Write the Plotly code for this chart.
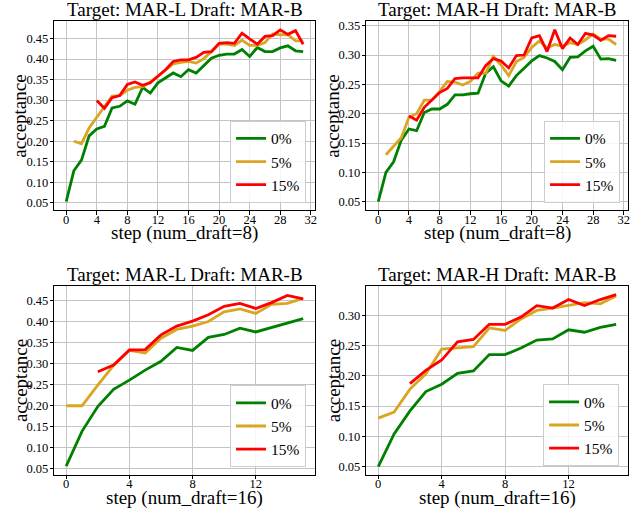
import plotly.graph_objects as go

series_names = ["0%", "5%", "15%"]
series_colors = ["#008000", "#DAA520", "#FF0000"]

titles = ["Target: MAR-L Draft: MAR-B", "Target: MAR-H Draft: MAR-B",
          "Target: MAR-L Draft: MAR-B", "Target: MAR-H Draft: MAR-B"]
xlabels = ["step (num_draft=8)", "step (num_draft=8)",
           "step (num_draft=16)", "step (num_draft=16)"]
ylabel = "acceptance"

# ---- panel 1: MAR-L, num_draft=8 (steps 0..31)
p1_steps0 = list(range(0, 32))
p1_g = [0.053, 0.128, 0.154, 0.213, 0.230, 0.236, 0.281, 0.285, 0.298, 0.290,
        0.331, 0.317, 0.342, 0.354, 0.366, 0.357, 0.374, 0.366, 0.385, 0.402,
        0.409, 0.412, 0.412, 0.423, 0.406, 0.428, 0.418, 0.418, 0.427, 0.432,
        0.420, 0.418]
p1_steps5 = list(range(1, 32))
p1_o = [0.200, 0.194, 0.232, 0.259, 0.283, 0.310, 0.311, 0.324, 0.331, 0.333,
        0.344, 0.358, 0.372, 0.388, 0.392, 0.394, 0.390, 0.401, 0.418, 0.436,
        0.436, 0.433, 0.446, 0.433, 0.433, 0.440, 0.461, 0.459, 0.459, 0.444,
        0.444]
p1_steps15 = list(range(4, 32))
p1_r = [0.299, 0.280, 0.306, 0.311, 0.338, 0.344, 0.336, 0.342, 0.358, 0.374,
        0.394, 0.398, 0.398, 0.404, 0.416, 0.418, 0.438, 0.440, 0.438, 0.463,
        0.449, 0.436, 0.455, 0.457, 0.471, 0.460, 0.469, 0.436]

# ---- panel 2: MAR-H, num_draft=8
p2_steps0 = list(range(0, 32))
p2_g = [0.050, 0.100, 0.118, 0.155, 0.174, 0.171, 0.202, 0.208, 0.208, 0.216,
        0.232, 0.232, 0.234, 0.235, 0.269, 0.280, 0.256, 0.247, 0.265, 0.278,
        0.290, 0.299, 0.295, 0.289, 0.275, 0.296, 0.297, 0.307, 0.315, 0.293,
        0.294, 0.291]
p2_steps5 = list(range(1, 32))
p2_o = [0.130, 0.144, 0.159, 0.194, 0.200, 0.223, 0.223, 0.238, 0.255, 0.254,
        0.249, 0.255, 0.269, 0.269, 0.298, 0.283, 0.265, 0.289, 0.296, 0.313,
        0.324, 0.312, 0.318, 0.315, 0.321, 0.318, 0.326, 0.336, 0.327, 0.327,
        0.318]
p2_steps15 = list(range(4, 32))
p2_r = [0.196, 0.189, 0.211, 0.223, 0.236, 0.243, 0.260, 0.261, 0.261, 0.261,
        0.282, 0.294, 0.290, 0.278, 0.299, 0.300, 0.329, 0.333, 0.306, 0.343,
        0.311, 0.329, 0.318, 0.337, 0.334, 0.325, 0.333, 0.332]

# ---- panel 3: MAR-L, num_draft=16 (steps 0..15)
p3_steps0 = list(range(0, 16))
p3_g = [0.056, 0.139, 0.198, 0.239, 0.261, 0.285, 0.306, 0.339, 0.332, 0.363,
        0.370, 0.385, 0.376, 0.387, 0.398, 0.408]
p3_steps5 = list(range(0, 16))
p3_o = [0.200, 0.200, 0.249, 0.296, 0.332, 0.326, 0.361, 0.382, 0.390, 0.401,
        0.424, 0.431, 0.420, 0.442, 0.444, 0.456]
p3_steps15 = list(range(2, 16))
p3_r = [0.281, 0.297, 0.333, 0.334, 0.369, 0.390, 0.402, 0.417, 0.437, 0.444,
        0.432, 0.446, 0.463, 0.455]

# ---- panel 4: MAR-H, num_draft=16
p4_steps0 = list(range(0, 16))
p4_g = [0.050, 0.104, 0.142, 0.174, 0.186, 0.204, 0.208, 0.235, 0.235, 0.246,
        0.259, 0.261, 0.276, 0.272, 0.280, 0.285]
p4_steps5 = list(range(0, 16))
p4_o = [0.130, 0.140, 0.178, 0.203, 0.244, 0.246, 0.248, 0.279, 0.275, 0.294,
        0.308, 0.312, 0.316, 0.321, 0.319, 0.332]
p4_steps15 = list(range(2, 16))
p4_r = [0.187, 0.209, 0.226, 0.256, 0.260, 0.285, 0.285, 0.297, 0.316, 0.312,
        0.326, 0.316, 0.326, 0.334]

x_ticks_8 = [0, 4, 8, 12, 16, 20, 24, 28, 32]
x_ticks_16 = [0, 4, 8, 12]
y_ticks_a = [0.05, 0.10, 0.15, 0.20, 0.25, 0.30, 0.35, 0.40, 0.45]
y_ticks_b = [0.05, 0.10, 0.15, 0.20, 0.25, 0.30, 0.35]
y_ticks_c = [0.05, 0.10, 0.15, 0.20, 0.25, 0.30]

panels = [
    ([(p1_steps0, p1_g), (p1_steps5, p1_o), (p1_steps15, p1_r)], x_ticks_8, y_ticks_a),
    ([(p2_steps0, p2_g), (p2_steps5, p2_o), (p2_steps15, p2_r)], x_ticks_8, y_ticks_b),
    ([(p3_steps0, p3_g), (p3_steps5, p3_o), (p3_steps15, p3_r)], x_ticks_16, y_ticks_a),
    ([(p4_steps0, p4_g), (p4_steps5, p4_o), (p4_steps15, p4_r)], x_ticks_16, y_ticks_c),
]

W, H = 644, 512
# pixel boxes (left, right, top, bottom)
boxes = [(54.5, 316, 19.3, 209.5), (367.5, 630, 19.3, 209.5),
         (54.5, 316, 285.3, 475.5), (367.5, 630, 285.3, 475.5)]
xranges = [[-1.55, 32.55], [-1.55, 32.55], [-0.75, 15.75], [-0.75, 15.75]]
yranges = [[0.032, 0.492], [0.0354, 0.3577], [0.0355, 0.4865], [0.0365, 0.349]]
legend_pos = [(307, 202), (622, 202), (307, 468), (621, 467)]
xlabel_y = [232.5, 232.5, 498.5, 498.5]  # pixel centre of x-axis title
ylabel_x = [20, 334, 20, 334]            # pixel centre of y-axis title

FONT = "Liberation Serif, Times New Roman, serif"

fig = go.Figure()
layout = dict(
    width=W, height=H, margin=dict(l=0, r=0, t=0, b=0),
    paper_bgcolor="white", plot_bgcolor="white",
    font=dict(family=FONT, color="black"),
    annotations=[],
    showlegend=True,
)

for i, (series, xt, yt) in enumerate(panels):
    n = i + 1
    xa = "x" if n == 1 else f"x{n}"
    ya = "y" if n == 1 else f"y{n}"
    lg = "legend" if n == 1 else f"legend{n}"
    for (xs, ys), name, col in zip(series, series_names, series_colors):
        fig.add_trace(go.Scatter(x=xs, y=ys, mode="lines", name=name,
                                 line=dict(color=col, width=2.8),
                                 xaxis=xa, yaxis=ya, legend=lg))
    l, r, t, b = boxes[i]
    axis_common = dict(showline=True, linecolor="black", linewidth=1, mirror=True,
                       showgrid=True, gridcolor="#c4c4c4", gridwidth=1.2,
                       ticks="outside", ticklen=3.5, tickcolor="black",
                       tickfont=dict(family=FONT, size=12.5, color="black"),
                       zeroline=False)
    layout["xaxis" if n == 1 else f"xaxis{n}"] = dict(
        axis_common, domain=[l / W, r / W], anchor=ya, range=xranges[i],
        tickvals=xt, ticktext=[str(v) for v in xt], ticklabelstandoff=-6)
    layout["yaxis" if n == 1 else f"yaxis{n}"] = dict(
        axis_common, domain=[1 - b / H, 1 - t / H], anchor=xa, range=yranges[i],
        tickvals=yt, ticktext=[f"{v:.2f}" for v in yt], ticklabelstandoff=-1)
    lx, ly = legend_pos[i]
    layout[lg] = dict(x=lx / W, y=1 - ly / H, xanchor="right", yanchor="bottom",
                      xref="paper", yref="paper",
                      bgcolor="rgba(255,255,255,0.85)", bordercolor="#cccccc", borderwidth=1,
                      font=dict(family=FONT, size=15.5, color="black"),
                      tracegroupgap=0, itemwidth=30)
    layout["annotations"].append(dict(
        text=titles[i], x=(l + r) / 2 / W, y=1 - t / H, xref="paper", yref="paper",
        xanchor="center", yanchor="bottom", showarrow=False, yshift=-1,
        font=dict(family=FONT, size=19, color="black")))
    layout["annotations"].append(dict(
        text=xlabels[i], x=(l + r) / 2 / W, y=1 - xlabel_y[i] / H, xref="paper", yref="paper",
        xanchor="center", yanchor="middle", showarrow=False,
        font=dict(family=FONT, size=19, color="black")))
    layout["annotations"].append(dict(
        text=ylabel, x=ylabel_x[i] / W, y=1 - (t + b) / 2 / H, xref="paper", yref="paper",
        xanchor="center", yanchor="middle", showarrow=False, textangle=-90,
        font=dict(family=FONT, size=19, color="black")))

fig.update_layout(**layout)
fig.write_html("out.html")
